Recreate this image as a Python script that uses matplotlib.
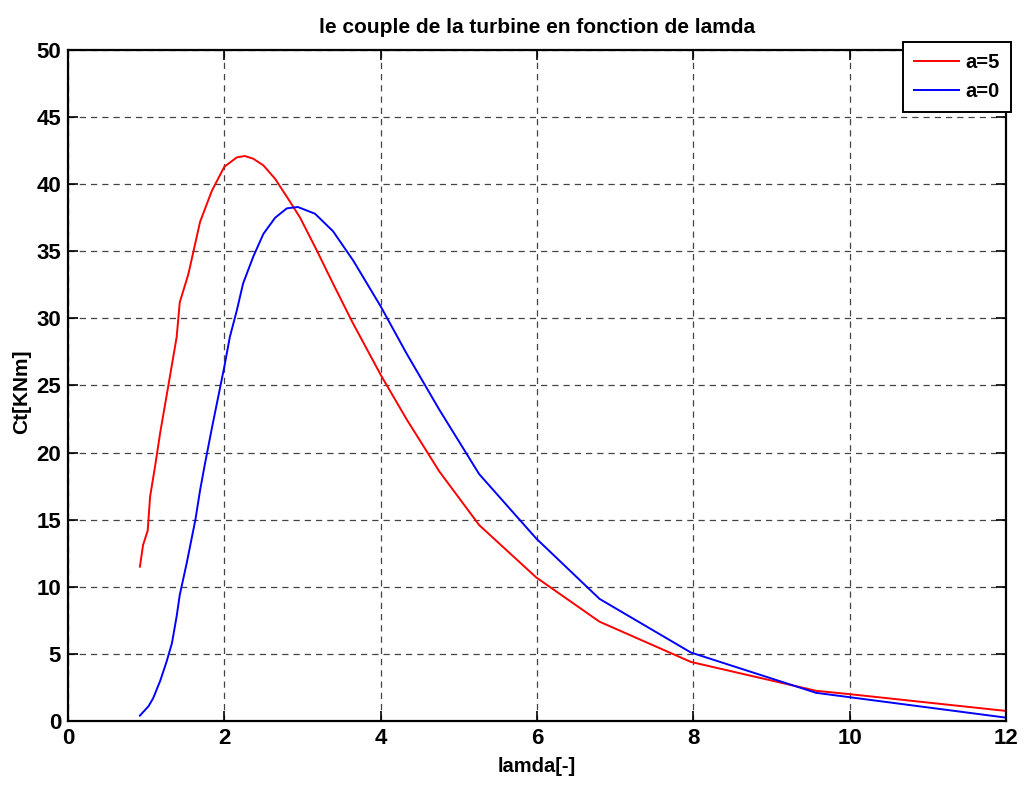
import numpy as np
import matplotlib.pyplot as plt

# a=5 (rouge)
lamda_a5 = [0.92, 0.96, 1.02, 1.05, 1.12, 1.18, 1.29, 1.39, 1.43, 1.54, 1.69, 1.84,
            2.0, 2.16, 2.26, 2.37, 2.5, 2.65, 2.84, 2.97, 3.18, 3.39, 3.64, 4.0,
            4.33, 4.75, 5.26, 5.99, 6.8, 7.97, 9.57, 10.0, 12.0]
ct_a5 = [11.5, 13.1, 14.2, 16.7, 19.2, 21.5, 25.2, 28.6, 31.2, 33.3, 37.2, 39.5,
         41.3, 42.0, 42.1, 41.9, 41.4, 40.4, 38.7, 37.5, 35.1, 32.6, 29.7, 25.8,
         22.5, 18.6, 14.6, 10.7, 7.4, 4.4, 2.25, 2.0, 0.75]

# a=0 (bleu)
lamda_a0 = [0.92, 1.03, 1.09, 1.18, 1.26, 1.33, 1.39, 1.43, 1.52, 1.63, 1.69, 1.75,
            1.84, 1.92, 2.0, 2.07, 2.16, 2.24, 2.37, 2.5, 2.65, 2.8, 2.94, 3.16,
            3.39, 3.65, 4.0, 4.33, 4.75, 5.26, 5.99, 6.8, 7.97, 9.57, 12.0]
ct_a0 = [0.4, 1.1, 1.7, 3.0, 4.4, 5.8, 7.8, 9.4, 11.8, 15.0, 17.2, 19.1,
         21.8, 24.1, 26.4, 28.6, 30.6, 32.6, 34.6, 36.3, 37.5, 38.2, 38.3, 37.8,
         36.5, 34.3, 30.9, 27.4, 23.2, 18.4, 13.6, 9.1, 5.1, 2.1, 0.25]

plt.rcParams['font.family'] = ['Liberation Sans', 'DejaVu Sans']
plt.rcParams['font.weight'] = 'bold'
etroit = ['Liberation Sans Narrow', 'Liberation Sans', 'DejaVu Sans']

fig = plt.figure(figsize=(10.24, 7.86), dpi=100)
ax = fig.add_axes([0.0664, 0.0827, 0.916, 0.8537])

ax.plot(lamda_a5, ct_a5, color='#ff0000', lw=1.4, label='a=5')
ax.plot(lamda_a0, ct_a0, color='#0000ff', lw=1.4, label='a=0')

ax.set_xlim(0, 12)
ax.set_ylim(0, 50)
ax.set_xticks(np.arange(0, 13, 2))
ax.set_yticks(np.arange(0, 51, 5))
ax.grid(True, color='#444444', linestyle=(0, (5, 4)), lw=0.9)
ax.tick_params(direction='in', top=True, right=True, length=7, width=1.2, pad=5)
for lbl in ax.get_xticklabels() + ax.get_yticklabels():
    lbl.set_fontweight('bold')
    lbl.set_fontfamily(etroit)
    lbl.set_fontsize(16)
for s in ax.spines.values():
    s.set_linewidth(1.6)

ax.set_title('le couple de la turbine en fonction de lamda', fontsize=15, fontweight='bold', pad=12)
ax.set_xlabel('lamda[-]', fontsize=14.5, fontweight='bold', labelpad=6)
ax.set_ylabel('Ct[KNm]', fontsize=15, fontweight='bold')
ax.yaxis.set_label_coords(-0.039, 0.49)

leg = ax.legend(loc='upper right', bbox_to_anchor=(1011/1024, 1 - 42/786),
                bbox_transform=fig.transFigure, borderaxespad=0, fancybox=False,
                framealpha=1, edgecolor='black', prop={'size': 14.5, 'weight': 'bold'},
                handlelength=2.2, handletextpad=0.35, borderpad=0.55,
                labelspacing=0.5)
leg.get_frame().set_linewidth(1.4)

fig.savefig('out.png', dpi=100)
